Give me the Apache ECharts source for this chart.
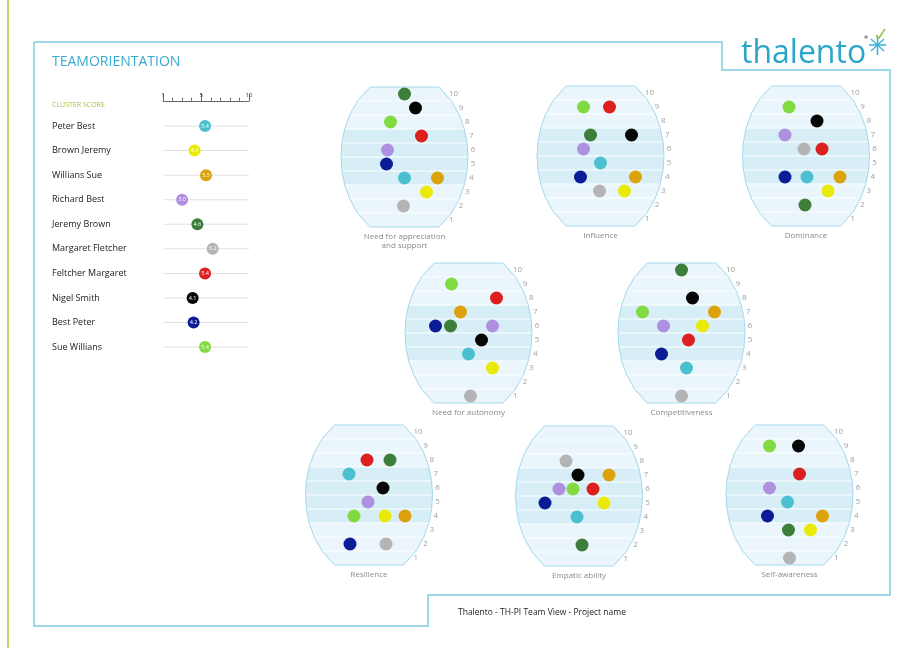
<!DOCTYPE html>
<html>
<head>
<meta charset="utf-8">
<script src="https://cdn.jsdelivr.net/npm/echarts@6/dist/echarts.min.js"></script>
<style>
  html, body { margin: 0; padding: 0; background: #fff; }
  #chart-container { width: 904px; height: 648px; }
</style>
</head>
<body>
<div id="chart-container"></div>
<script>
// people, in the order of the cluster score list
const people = ['Peter Best', 'Brown Jeremy', 'Willians Sue', 'Richard Best', 'Jeremy Brown',
  'Margaret Fletcher', 'Feltcher Margaret', 'Nigel Smith', 'Best Peter', 'Sue Willians']
const personColors = ['#4cbfd0', '#eaea08', '#dba20c', '#af90e0', '#3c7e3a',
  '#b4b4b4', '#dc2020', '#060606', '#0b1d96', '#80da40']
const clusterScores = [5.4, 4.3, 5.5, 3.0, 4.6, 6.2, 5.4, 4.1, 4.2, 5.4]
const rulerLabels = [1, 5, 10]
const levelLabels = ['1', '2', '3', '4', '5', '6', '7', '8', '9', '10']

const dimensions = ['Need for appreciation\nand support', 'Influence', 'Dominance',
  'Need for autonomy', 'Competitiveness', 'Resilience', 'Empatic ability', 'Self-awareness']

// score 1-10 per person, same order as people
const appreciation = [4, 3, 4, 6, 10, 2, 7, 9, 5, 8]
const influence = [5, 3, 4, 6, 7, 3, 9, 7, 4, 9]
const dominance = [4, 3, 4, 7, 2, 6, 6, 8, 4, 9]
const autonomy = [4, 3, 7, 6, 6, 1, 8, 5, 6, 9]
const competitiveness = [3, 6, 7, 6, 10, 1, 5, 8, 4, 7]
const resilience = [7, 4, 4, 5, 8, 2, 8, 6, 2, 4]
const empatic = [4, 5, 7, 6, 2, 8, 6, 7, 5, 6]
const selfAwareness = [5, 3, 4, 6, 3, 1, 7, 9, 4, 9]

// sideways spread of the dots inside each oval (so equal scores do not overlap)
const appreciationSpread = [0, 22, 33, -17, 0, -1, 17, 11, -18, -14]
const influenceSpread = [0, 24, 35, -17, -10, -1, 9, 31, -20, -17]
const dominanceSpread = [1, 22, 34, -21, -1, -2, 16, 11, -21, -17]
const autonomySpread = [0, 24, -8, 24, -18, 2, 28, 13, -33, -17]
const competitivenessSpread = [5, 21, 33, -18, 0, 0, 7, 11, -20, -39]
const resilienceSpread = [-20, 16, 36, -1, 21, 17, -2, 14, -19, -15]
const empaticSpread = [-2, 25, 30, -20, 3, -13, 14, -1, -34, -6]
const selfAwarenessSpread = [-2, 21, 33, -20, -1, 0, 10, 9, -22, -20]

const scores = [appreciation, influence, dominance, autonomy, competitiveness, resilience, empatic, selfAwareness]
const spreads = [appreciationSpread, influenceSpread, dominanceSpread, autonomySpread,
  competitivenessSpread, resilienceSpread, empaticSpread, selfAwarenessSpread]

// oval placement on the page
const ovalBoxes = [
  { cx: 404.5, top: 87 }, { cx: 600.5, top: 86 }, { cx: 806, top: 86 },
  { cx: 468.5, top: 263 }, { cx: 681.5, top: 263 },
  { cx: 369, top: 425 }, { cx: 579, top: 426 }, { cx: 789.5, top: 425 },
]
const OVAL_W = 127
const OVAL_H = 140
const FONT = '"Open Sans", sans-serif'

// barrel shaped background, drawn inside the grid of each oval
function barrel(params, api) {
  const c = api.coord([0, 5.5])
  const unit = api.size([1, 1])
  const levelPx = unit[1]
  const a = (OVAL_W / 2) * unit[0]
  const b = 5.95 * levelPx
  const half = y => a * Math.sqrt(Math.max(0, 1 - (y * y) / (b * b)))
  const band = (l0, l1) => {
    const pts = []
    const y0 = (l0 - 5.5) * levelPx
    const y1 = (l1 - 5.5) * levelPx
    const n = 10
    for (let i = 0; i <= n; i++) {
      const y = y0 + (y1 - y0) * i / n
      pts.push([c[0] + half(y), c[1] - y])
    }
    for (let i = n; i >= 0; i--) {
      const y = y0 + (y1 - y0) * i / n
      pts.push([c[0] - half(y), c[1] - y])
    }
    return pts
  }
  const children = []
  for (let l = 1; l <= 10; l++) {
    const dark = l >= 4 && l <= 7
    children.push({
      type: 'polygon',
      shape: { points: band(l - 0.5, l + 0.5) },
      style: { fill: dark ? '#d8eef7' : '#eaf6fb', stroke: null },
    })
  }
  for (let l = 1; l < 10; l++) {
    const y = (l + 0.5 - 5.5) * levelPx
    children.push({
      type: 'line',
      shape: { x1: c[0] - half(y), y1: c[1] - y, x2: c[0] + half(y), y2: c[1] - y },
      style: { stroke: '#ffffff', lineWidth: 1, opacity: 0.9 },
    })
  }
  children.push({
    type: 'polygon',
    shape: { points: band(0.5, 10.5) },
    style: { fill: null, stroke: '#a3daee', lineWidth: 1 },
  })
  levelLabels.forEach((t, i) => {
    const y = (i + 1 - 5.5) * levelPx
    children.push({
      type: 'text',
      x: c[0] + half(y) + 3,
      y: c[1] - y,
      style: { text: t, fill: '#a0a0a0', font: '8px ' + FONT, align: 'left', verticalAlign: 'middle' },
    })
  })
  return { type: 'group', children }
}

const grid = [{ left: 163, width: 86, top: 113.75, height: 245.6 }]
const xAxis = [
  {
    gridIndex: 0, type: 'value', position: 'top', offset: 13, min: 1, max: 10, interval: 1,
    axisLine: { show: true, lineStyle: { color: '#666', width: 1 } },
    axisTick: { show: true, length: 3, lineStyle: { color: '#666' } },
    axisLabel: { show: false }, splitLine: { show: false },
  },
  {
    gridIndex: 0, type: 'value', position: 'top', offset: 13, min: 1, max: 10, interval: 1,
    axisLine: { show: false },
    axisTick: { show: true, length: 7, customValues: rulerLabels, lineStyle: { color: '#666' } },
    axisLabel: { show: true, customValues: rulerLabels, fontSize: 6, margin: 2, color: '#333', fontFamily: FONT },
    splitLine: { show: false },
  },
]
const yAxis = [
  {
    gridIndex: 0, type: 'category', data: people, inverse: true,
    axisLine: { show: false }, axisTick: { show: false },
    axisLabel: { align: 'left', margin: 111, fontSize: 9, color: '#222', fontFamily: FONT },
  },
]
const series = [
  {
    type: 'bar', xAxisIndex: 0, yAxisIndex: 0, silent: true, barWidth: 1,
    data: people.map(() => 10), itemStyle: { color: '#e2e2e2' }, z: 1,
  },
  {
    type: 'scatter', xAxisIndex: 0, yAxisIndex: 0, symbolSize: 12, z: 3,
    data: clusterScores.map((v, i) => ({ value: [v, i], itemStyle: { color: personColors[i], opacity: 1 } })),
    label: {
      show: true, position: 'inside', fontSize: 5.5, color: '#fff', fontFamily: FONT,
      formatter: p => p.value[0].toFixed(1),
    },
  },
]

ovalBoxes.forEach((box, k) => {
  const g = grid.length
  const xi = xAxis.length
  const yi = yAxis.length
  grid.push({ left: box.cx - OVAL_W / 2, width: OVAL_W, top: box.top, height: OVAL_H })
  xAxis.push({
    gridIndex: g, type: 'value', min: -OVAL_W / 2, max: OVAL_W / 2,
    axisLine: { show: false }, axisTick: { show: false }, axisLabel: { show: false }, splitLine: { show: false },
    name: dimensions[k], nameLocation: 'middle', nameGap: 5,
    nameTextStyle: { fontSize: 8, color: '#8a8a8a', fontFamily: FONT, lineHeight: 9, verticalAlign: 'top' },
  })
  yAxis.push({
    gridIndex: g, type: 'value', min: 0.5, max: 10.5, show: false,
  })
  series.push({
    type: 'custom', coordinateSystem: 'cartesian2d', xAxisIndex: xi, yAxisIndex: yi, silent: true, z: 1,
    data: [[0, 5.5]], renderItem: barrel,
  })
  series.push({
    type: 'scatter', xAxisIndex: xi, yAxisIndex: yi, symbolSize: 13, z: 3,
    data: scores[k].map((s, i) => ({ value: [spreads[k][i], s], itemStyle: { color: personColors[i], opacity: 1 } })),
  })
})

const frameColor = '#7fcde3'
const graphic = [
  {
    type: 'polyline', silent: true,
    shape: { points: [[8, 0], [8, 648]] },
    style: { stroke: '#a6c83c', lineWidth: 1.5, fill: null },
  },
  {
    type: 'polyline', silent: true,
    shape: { points: [[34, 42], [722, 42], [722, 70], [890, 70], [890, 595], [428, 595], [428, 626], [34, 626], [34, 42]] },
    style: { stroke: frameColor, lineWidth: 1.5, fill: null },
  },
  {
    type: 'text', left: 52, top: 101, silent: true,
    style: { text: 'CLUSTER SCORE', fill: '#9cc53e', font: '7px ' + FONT, verticalAlign: 'middle' },
  },
  {
    type: 'text', x: 458, y: 613, silent: true,
    style: { text: 'Thalento - TH-PI Team View - Project name', fill: '#222', font: '8.5px ' + FONT, verticalAlign: 'middle' },
  },
  {
    type: 'text', x: 741, y: 54, silent: true,
    style: { text: 'thalento', fill: '#2ba6c8', font: '32px ' + FONT, verticalAlign: 'middle' },
  },
  // logo star
  {
    type: 'group', silent: true,
    children: [
      { type: 'line', shape: { x1: 869, y1: 45, x2: 886, y2: 45 }, style: { stroke: '#35b2dc', lineWidth: 1.5 } },
      { type: 'line', shape: { x1: 877.5, y1: 36, x2: 877.5, y2: 55 }, style: { stroke: '#35b2dc', lineWidth: 1.5 } },
      { type: 'line', shape: { x1: 871, y1: 39, x2: 884, y2: 51 }, style: { stroke: '#35b2dc', lineWidth: 1.2 } },
      { type: 'line', shape: { x1: 871, y1: 51, x2: 884, y2: 39 }, style: { stroke: '#35b2dc', lineWidth: 1.2 } },
      { type: 'polyline', shape: { points: [[876, 35], [879, 38], [885, 29]] }, style: { stroke: '#8cc63f', lineWidth: 1.5, fill: null } },
      { type: 'circle', shape: { cx: 866, cy: 37, r: 1.8 }, style: { fill: '#999' } },
    ],
  },
]

const option = {
  animation: false,
  backgroundColor: '#fff',
  title: {
    text: 'TEAMORIENTATION', left: 52, top: 55, padding: 0,
    textStyle: { fontSize: 14, fontWeight: 'normal', color: '#36abcf', fontFamily: FONT },
  },
  grid, xAxis, yAxis, series, graphic,
}

const chart = echarts.init(document.getElementById('chart-container'))
chart.setOption(option, true)
window.addEventListener('resize', () => chart.resize())
</script>
</body>
</html>
